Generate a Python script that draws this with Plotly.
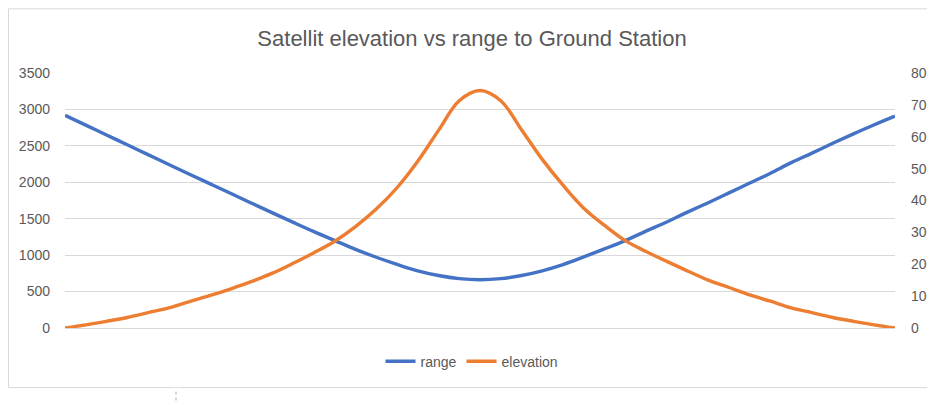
import plotly.graph_objects as go

# sample index along the pass (no labels shown on the category axis)
samples = list(range(41))

range_km = [2920, 2785, 2650, 2515, 2380, 2245, 2110, 1978, 1845, 1712,
            1580, 1450, 1322, 1200, 1080, 971, 873, 785, 720, 677,
            662, 677, 720, 785, 870, 975, 1085, 1200, 1330, 1455,
            1590, 1720, 1855, 1990, 2125, 2270, 2400, 2535, 2665, 2790,
            2908]

elevation_deg = [0, 1.0, 2.1, 3.3, 4.8, 6.3, 8.3, 10.2, 12.3, 14.6,
                 17.2, 20.3, 23.6, 27.2, 31.8, 37.3, 44.0, 52.3, 62.0, 71.3,
                 74.5, 71.3, 62.2, 52.9, 44.8, 37.6, 32.2, 27.4, 24.0, 20.9,
                 17.9, 15.0, 12.7, 10.4, 8.4, 6.3, 4.8, 3.3, 2.1, 1.0,
                 0]

left_ticks = [0, 500, 1000, 1500, 2000, 2500, 3000, 3500]
right_ticks = [0, 10, 20, 30, 40, 50, 60, 70, 80]

BLUE = "#4472C4"
ORANGE = "#ED7D31"
GRID = "#D9D9D9"
TXT = "#595959"
FONT = "Liberation Sans"

fig = go.Figure()
fig.add_trace(go.Scatter(x=samples, y=range_km, name="range", mode="lines",
                         line=dict(color=BLUE, width=3.4, shape="spline", smoothing=1.0),
                         yaxis="y"))
fig.add_trace(go.Scatter(x=samples, y=elevation_deg, name="elevation", mode="lines",
                         line=dict(color=ORANGE, width=3.4, shape="spline", smoothing=1.0),
                         yaxis="y2"))

L, R, T, B = 65, 32, 72.8, 74.7
W, H = 927, 403
pw = W - L - R
ph = H - T - B

def px2x(px):
    return (px - L) / pw

def py2y(py):
    return (H - B - py) / ph

fig.update_layout(
    width=W, height=H,
    margin=dict(l=L, r=R, t=T, b=B, autoexpand=False),
    paper_bgcolor="white", plot_bgcolor="white",
    title=dict(text="Satellit elevation vs range to Ground Station",
               xref="container", x=472 / W, xanchor="center",
               yref="container", y=1 - 38 / H, yanchor="middle",
               font=dict(family=FONT, size=22, color=TXT), automargin=False),
    font=dict(family=FONT, size=14, color=TXT),
    showlegend=True,
    legend=dict(orientation="h", x=px2x(472), xanchor="center", y=py2y(362), yanchor="middle",
                font=dict(family=FONT, size=14, color=TXT),
                bgcolor="rgba(0,0,0,0)"),
    xaxis=dict(range=[0, 40], showgrid=False, showticklabels=False, zeroline=False,
               showline=True, linecolor=GRID, linewidth=1, ticks="", fixedrange=True,
               automargin=False),
    yaxis=dict(range=[0, 3500], tickvals=left_ticks, showgrid=True, gridcolor=GRID,
               gridwidth=1, zeroline=False, showline=False, ticks="",
               ticklabelstandoff=14, automargin=False,
               tickfont=dict(family=FONT, size=14, color=TXT)),
    yaxis2=dict(range=[0, 80], tickvals=right_ticks, overlaying="y", side="right",
                showgrid=False, zeroline=False, showline=False, ticks="",
                ticklabelstandoff=15, automargin=False,
                tickfont=dict(family=FONT, size=14, color=TXT)),
    shapes=[
        dict(type="rect", xref="paper", yref="paper",
             x0=px2x(8.5), x1=px2x(935), y0=py2y(388), y1=py2y(8.5),
             line=dict(color=GRID, width=1), fillcolor="rgba(0,0,0,0)", layer="below"),
        dict(type="line", xref="paper", yref="paper",
             x0=px2x(176), x1=px2x(176), y0=py2y(392), y1=py2y(401),
             line=dict(color="#AAAAAA", width=1, dash="dot")),
    ],
)

fig.write_html(
    "out.html",
    config={"displayModeBar": False},
    post_script="document.body.style.margin='0';document.body.style.padding='0';"
                "document.documentElement.style.overflow='hidden';",
)
